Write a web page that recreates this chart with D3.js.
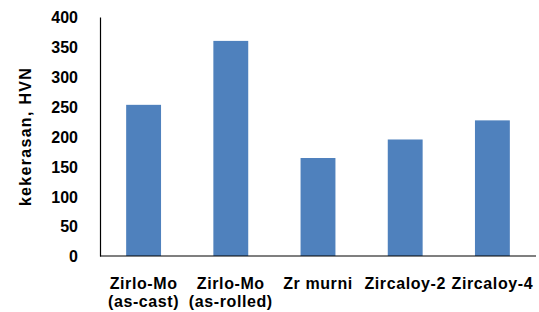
<!DOCTYPE html>
<html>
<head>
<meta charset="utf-8">
<script src="https://cdn.jsdelivr.net/npm/d3@7"></script>
<style>
  body { margin: 0; background: #fff; }
  text { font-family: "Liberation Sans", Arial, sans-serif; font-weight: bold; fill: #000; }
</style>
</head>
<body>
<div id="chart"></div>
<script>
// chart data
const categories = [["Zirlo-Mo", "(as-cast)"], ["Zirlo-Mo", "(as-rolled)"], ["Zr murni"], ["Zircaloy-2"], ["Zircaloy-4"]];
const hardness = [253, 360, 164, 195, 227];
const yTicks = [0, 50, 100, 150, 200, 250, 300, 350, 400];
const yTitle = "kekerasan, HVN";

const width = 539, height = 312;
const margin = { top: 17, right: 3, bottom: 56, left: 100 };

const svg = d3.select("#chart").append("svg")
  .attr("width", width)
  .attr("height", height);

const x = d3.scaleBand()
  .domain(d3.range(categories.length))
  .range([margin.left, width - margin.right])
  .paddingInner(0.6)
  .paddingOuter(0.3);

const y = d3.scaleLinear()
  .domain([0, 400])
  .range([height - margin.bottom, margin.top]);

// bars
svg.append("g")
  .selectAll("rect")
  .data(hardness)
  .join("rect")
  .attr("x", (d, i) => x(i))
  .attr("y", d => y(d))
  .attr("width", x.bandwidth())
  .attr("height", d => y(0) - y(d))
  .attr("fill", "#4f81bd");

// y axis
const yAxis = svg.append("g")
  .attr("transform", `translate(${margin.left},0)`)
  .call(d3.axisLeft(y).tickValues(yTicks).tickSize(0).tickPadding(22));
yAxis.select(".domain").attr("stroke", "#000").attr("stroke-width", 1.2);
yAxis.selectAll("text").attr("font-size", 16).attr("font-family", null).attr("dy", "0.36em");

// x axis line
svg.append("line")
  .attr("x1", margin.left).attr("x2", width - margin.right)
  .attr("y1", y(0)).attr("y2", y(0))
  .attr("stroke", "#000").attr("stroke-width", 1.2);

// x labels
const labels = svg.append("g")
  .selectAll("text")
  .data(categories)
  .join("text")
  .attr("text-anchor", "middle")
  .attr("font-size", 16)
  .attr("letter-spacing", 0.6)
  .attr("transform", (d, i) => `translate(${x(i) + x.bandwidth() / 2},289)`);
labels.selectAll("tspan")
  .data(d => d)
  .join("tspan")
  .attr("x", 0)
  .attr("y", (d, j) => j * 17.5)
  .text(d => d);

// y title
svg.append("text")
  .attr("transform", `translate(30.5,${(y(0) + y(400)) / 2}) rotate(-90)`)
  .attr("text-anchor", "middle")
  .attr("font-size", 16)
  .attr("letter-spacing", 1.3)
  .text(yTitle);
</script>
</body>
</html>
